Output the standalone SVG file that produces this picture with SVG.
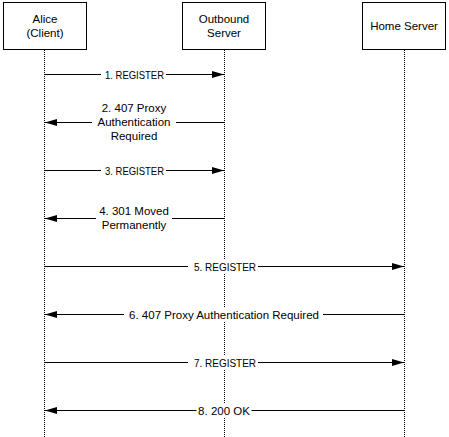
<svg xmlns="http://www.w3.org/2000/svg" width="449" height="437" viewBox="0 0 449 437">
<style>
text{font-family:"Liberation Sans",Arial,sans-serif;font-size:11.5px;fill:#000;text-anchor:middle}
.box{fill:#fff;stroke:#000;stroke-width:1}
.life{stroke:#000;stroke-width:1;stroke-dasharray:1,1;fill:none}
.msg{stroke:#000;stroke-width:1;fill:none}
.bg{fill:#fff}
</style>
<defs>
<marker id="ah" markerWidth="12" markerHeight="8" refX="12" refY="4" orient="auto" markerUnits="userSpaceOnUse">
<path d="M0,0.5 L12,4 L0,7.5 Z" fill="#000"/>
</marker>
</defs>
<rect width="449" height="437" fill="#fff"/>
<g id="lifelines">
<line class="life" x1="44.5" y1="50" x2="44.5" y2="437"/>
<line class="life" x1="224.5" y1="50" x2="224.5" y2="437"/>
<line class="life" x1="404.5" y1="50" x2="404.5" y2="437"/>
</g>
<g id="alice">
<rect class="box" x="3.5" y="2.5" width="83" height="47"/>
<text x="45" y="23">Alice</text>
<text x="45" y="37">(Client)</text>
</g>
<g id="outbound">
<rect class="box" x="182.5" y="2.5" width="83" height="47"/>
<text x="224" y="23">Outbound</text>
<text x="224" y="37">Server</text>
</g>
<g id="home">
<rect class="box" x="362.5" y="2.5" width="83" height="47"/>
<text x="404" y="30">Home Server</text>
</g>
<g id="connectors">
<line class="msg" x1="44.5" y1="74.5" x2="224" y2="74.5" marker-end="url(#ah)"/>
<rect class="bg" x="101" y="68" width="65" height="13"/>
<text x="134.5" y="78.5" textLength="59" lengthAdjust="spacingAndGlyphs">1. REGISTER</text>

<line class="msg" x1="224.5" y1="122.5" x2="45" y2="122.5" marker-end="url(#ah)"/>
<rect class="bg" x="92" y="101" width="84" height="41"/>
<text x="134" y="112">2. 407 Proxy</text>
<text x="134" y="126">Authentication</text>
<text x="134" y="140">Required</text>

<line class="msg" x1="44.5" y1="170.5" x2="224" y2="170.5" marker-end="url(#ah)"/>
<rect class="bg" x="101" y="164" width="65" height="13"/>
<text x="134.5" y="174.5" textLength="59" lengthAdjust="spacingAndGlyphs">3. REGISTER</text>

<line class="msg" x1="224.5" y1="218.5" x2="45" y2="218.5" marker-end="url(#ah)"/>
<rect class="bg" x="96" y="205" width="76" height="28"/>
<text x="134" y="215">4. 301 Moved</text>
<text x="134" y="229">Permanently</text>

<line class="msg" x1="44.5" y1="266.5" x2="404" y2="266.5" marker-end="url(#ah)"/>
<rect class="bg" x="188" y="260" width="70" height="13"/>
<text x="225" y="270.5" textLength="62" lengthAdjust="spacingAndGlyphs">5. REGISTER</text>

<line class="msg" x1="404.5" y1="314.5" x2="45" y2="314.5" marker-end="url(#ah)"/>
<rect class="bg" x="124" y="308" width="199" height="13"/>
<text x="224" y="318.5">6. 407 Proxy Authentication Required</text>

<line class="msg" x1="44.5" y1="362.5" x2="404" y2="362.5" marker-end="url(#ah)"/>
<rect class="bg" x="188" y="356" width="70" height="13"/>
<text x="225" y="366.5" textLength="62" lengthAdjust="spacingAndGlyphs">7. REGISTER</text>

<line class="msg" x1="404.5" y1="410.5" x2="45" y2="410.5" marker-end="url(#ah)"/>
<rect class="bg" x="196.5" y="404" width="55" height="13"/>
<text x="224" y="414.5">8. 200 OK</text>
</g>
</svg>
